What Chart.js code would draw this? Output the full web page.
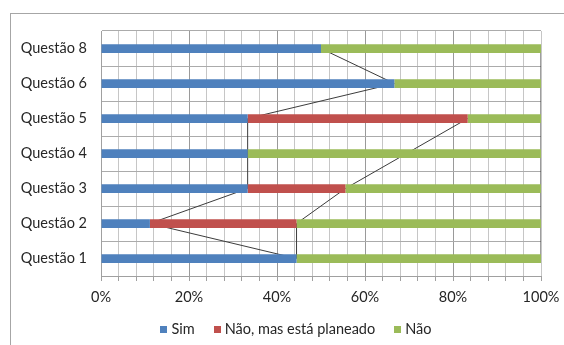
<!DOCTYPE html>
<html>
<head>
<meta charset="utf-8">
<script src="https://cdn.jsdelivr.net/npm/chart.js@4/dist/chart.umd.min.js"></script>
<style>
  html, body { margin: 0; padding: 0; background: #ffffff; }
  #wrap { position: relative; width: 564px; height: 345px; overflow: hidden; }
  #legend {
    position: absolute; left: 28px; top: 321px; width: 536px;
    display: flex; justify-content: center; align-items: center;
    font-family: Lato, "Open Sans", sans-serif; font-size: 14.5px; line-height: 16px;
    color: #262626; white-space: nowrap;
  }
  #legend .item { display: flex; align-items: center; }
  #legend .item + .item { margin-left: 19px; }
  #legend .box { width: 7px; height: 7px; margin-right: 4px; margin-top: 1px; }
</style>
</head>
<body>
<div id="wrap">
  <canvas id="chart" width="564" height="345"></canvas>
  <div id="legend"></div>
</div>
<script>
// Categories, bottom to top
const categories = ['Questão 1', 'Questão 2', 'Questão 3', 'Questão 4', 'Questão 5', 'Questão 6', 'Questão 8'];
const seriesNames = ['Sim', 'Não, mas está planeado', 'Não'];

// Share of answers per question (%); null = no answer in that group
const sim      = [44.44, 11.11, 33.33, 33.33, 33.33, 66.67, 50];
const planeado = [0, 33.33, 22.22, null, 50, null, null];
const nao      = [55.56, 55.56, 44.44, 66.67, 16.67, 33.33, 50];

// Labelled ticks on the percentage axis
const xTickLabels = [0, 20, 40, 60, 80, 100];

const colors = ['#4F81BD', '#C0504D', '#9BBB59'];
const textColor = '#262626';
const fontFamily = 'Lato, "Open Sans", sans-serif';

// Cumulative segment ends, used for the series lines joining the bars
const endSim = sim.slice();
const endPlaneado = sim.map((v, i) => planeado[i] === null ? null : v + planeado[i]);
const endTotal = sim.map((v, i) => v + (planeado[i] || 0) + nao[i]);

const barSets = [sim, planeado, nao].map((d, i) => ({
  type: 'bar',
  label: seriesNames[i],
  data: d,
  backgroundColor: colors[i],
  borderWidth: 0,
  barPercentage: 0.5,
  categoryPercentage: 0.5,
  xAxisID: 'x',
  order: 0
}));

const lineSets = [endSim, endPlaneado, endTotal].map((d, i) => ({
  type: 'line',
  label: 'serie-' + i,
  data: d,
  indexAxis: 'y',
  xAxisID: 'x2',
  borderColor: '#3c3c3c',
  borderWidth: 1,
  pointRadius: 0,
  pointHoverRadius: 0,
  fill: false,
  spanGaps: true,
  order: 1
}));

const frame = {
  id: 'frame',
  beforeDraw(chart) {
    const ctx = chart.ctx;
    ctx.save();
    ctx.fillStyle = '#ffffff';
    ctx.fillRect(0, 0, chart.width, chart.height);
    ctx.strokeStyle = '#a6a6a6';
    ctx.lineWidth = 1;
    ctx.strokeRect(10.5, 13.5, 700, 500);
    ctx.restore();
  }
};

const chart = new Chart(document.getElementById('chart'), {
  type: 'bar',
  data: { labels: categories, datasets: barSets.concat(lineSets) },
  plugins: [frame],
  options: {
    indexAxis: 'y',
    responsive: false,
    animation: false,
    devicePixelRatio: 1,
    layout: { padding: { left: 0, right: 23, top: 31, bottom: 42 } },
    scales: {
      x: {
        type: 'linear',
        stacked: true,
        min: 0,
        max: 100,
        afterFit(scale) { scale.height = 27; },
        ticks: {
          stepSize: 4,
          autoSkip: false,
          maxRotation: 0,
          padding: 3,
          color: textColor,
          font: { family: fontFamily, size: 14.5 },
          callback: v => xTickLabels.includes(v) ? v + '%' : ''
        },
        grid: {
          color: c => (c.tick && [20, 40, 60, 80].includes(c.tick.value)) ? '#9a9a9a' : '#c6c6c6',
          tickColor: '#a0a0a0',
          tickLength: 10,
          tickBorderDash: [4, 100]
        },
        border: { color: '#a0a0a0' }
      },
      x2: {
        type: 'linear',
        axis: 'x',
        position: 'bottom',
        display: false,
        min: 0,
        max: 100
      },
      y: {
        type: 'category',
        stacked: true,
        reverse: true,
        afterFit(scale) { scale.width = 101; },
        ticks: {
          padding: 14,
          color: textColor,
          font: { family: fontFamily, size: 14.5 }
        },
        grid: { color: '#ababab', drawTicks: false, offset: true },
        border: { color: '#a0a0a0' }
      }
    },
    plugins: {
      tooltip: { enabled: false },
      legend: { display: false }
    }
  }
});

// Legend built from the bar series
const legend = document.getElementById('legend');
chart.data.datasets.filter(ds => ds.type === 'bar').forEach(ds => {
  const item = document.createElement('div');
  item.className = 'item';
  const box = document.createElement('span');
  box.className = 'box';
  box.style.background = ds.backgroundColor;
  const txt = document.createElement('span');
  txt.textContent = ds.label;
  item.appendChild(box);
  item.appendChild(txt);
  legend.appendChild(item);
});
</script>
</body>
</html>
